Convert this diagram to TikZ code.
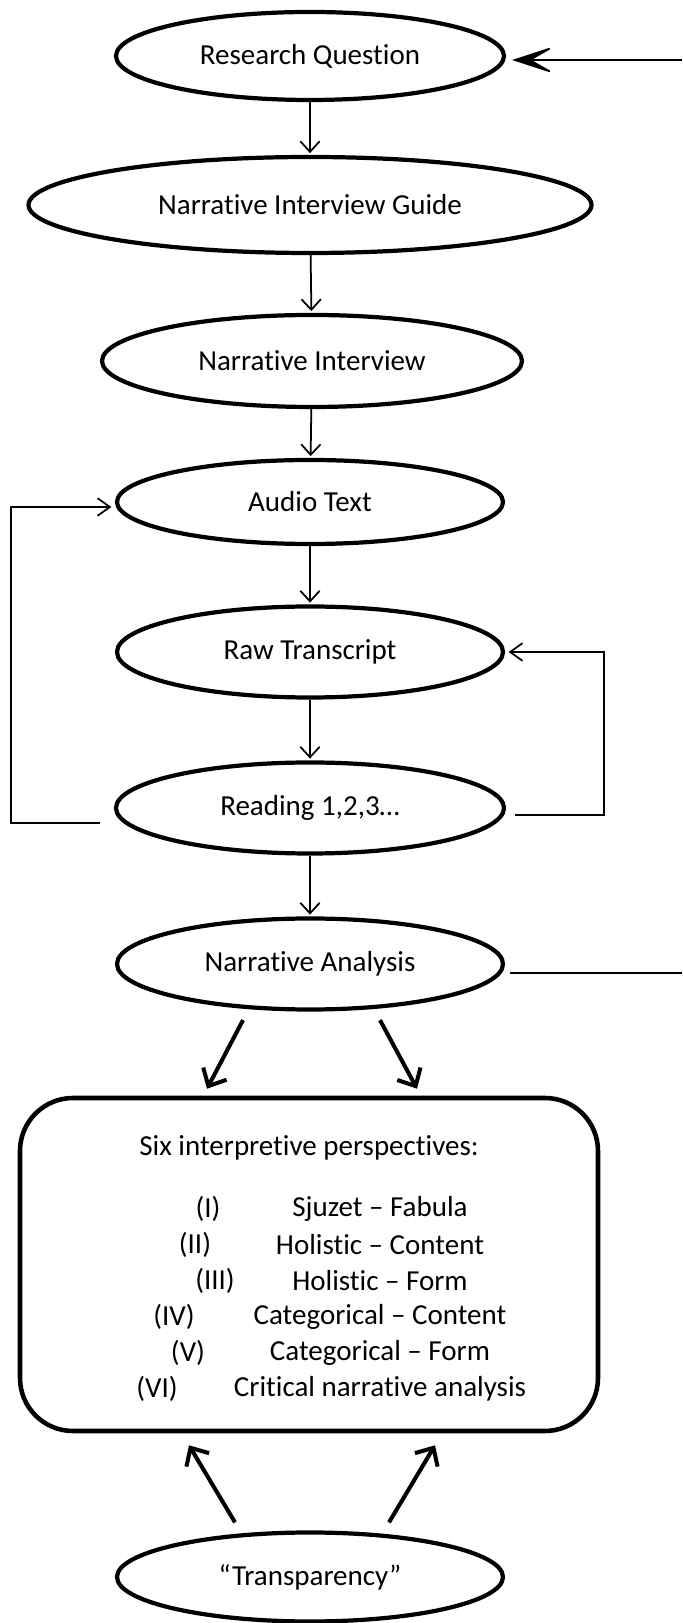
\documentclass[tikz,border=0pt]{standalone}
\usepackage{fontspec}
\setmainfont{Carlito}[Ligatures={TeX,NoCommon,NoContextual}]
\usetikzlibrary{shapes.geometric, arrows.meta}

\begin{document}
\begin{tikzpicture}[>={Straight Barb[length=6pt,width=11pt]},
    font=\fontsize{16.5}{19.8}\selectfont,
    etapa/.style={ellipse, draw, line width=2.4pt, inner sep=0pt},
    flecha/.style={->, line width=1pt, shorten >=1pt},
    gruesa/.style={-{Straight Barb[length=8pt,width=15pt]}, line width=2.3pt},
    lazo/.style={-{Straight Barb[length=7pt,width=10pt]}, line width=1pt, shorten >=2pt}]

    % 0. Marco de la figura
    \useasboundingbox (0,0) rectangle (13.64,32.46);

    % 1. Etapas del proceso (elipses)
    \node[etapa, minimum width=7.76cm, minimum height=1.76cm] (rq) at (6.2,31.34) {Research Question};
    \node[etapa, minimum width=11.26cm, minimum height=1.92cm] (nig) at (6.2,28.36) {Narrative Interview Guide};
    \node[etapa, minimum width=8.4cm, minimum height=1.84cm] (ni) at (6.24,25.24) {Narrative Interview};
    \node[etapa, minimum width=7.72cm, minimum height=1.68cm] (at) at (6.2,22.42) {Audio Text};
    \node[etapa, minimum width=7.72cm, minimum height=1.82cm] (rt) at (6.2,19.42) {Raw Transcript};
    \node[etapa, minimum width=7.76cm, minimum height=1.82cm] (rd) at (6.2,16.30) {Reading 1,2,3…};
    \node[etapa, minimum width=7.72cm, minimum height=1.82cm] (na) at (6.2,13.18) {Narrative Analysis};
    \node[etapa, minimum width=7.72cm, minimum height=1.78cm] (tr) at (6.2,0.92) {“Transparency”};

    % 2. Flechas verticales entre etapas
    \foreach \a/\b in {rq/nig, nig/ni, ni/at, at/rt, rt/rd, rd/na} {
        \draw[flecha] (\a) -- (\b);
    }

    % 3. Caja con las seis perspectivas
    \node[draw, line width=2.6pt, rounded corners=1.06cm, minimum width=11.56cm, minimum height=6.66cm] (caja) at (6.18,7.17) {};
    \node (titulo) at (6.18,9.50) {Six interpretive perspectives:};
    \foreach \num/\nx/\txt [count=\i] in {I/4.16/Sjuzet -- Fabula, II/3.90/Holistic -- Content, III/4.30/Holistic -- Form,
        IV/3.48/Categorical -- Content, V/3.76/Categorical -- Form, VI/3.14/Critical narrative analysis} {
        \node (num\i) at (\nx, 8.28-0.72*\i+0.72) {(\num)};
        \node (item\i) at (7.6, 8.28-0.72*\i+0.72) {\txt};
    }

    % 4. Flechas gruesas hacia la caja
    \draw[gruesa] ([xshift=-1.34cm,yshift=-0.17cm]na.south) -- ([xshift=-2.04cm,yshift=0.14cm]caja.north);
    \draw[gruesa] ([xshift=1.4cm,yshift=-0.17cm]na.south) -- ([xshift=2.16cm,yshift=0.14cm]caja.north);
    \draw[gruesa] ([xshift=-1.5cm,yshift=0.16cm]tr.north) -- ([xshift=-2.4cm,yshift=-0.24cm]caja.south);
    \draw[gruesa] ([xshift=1.58cm,yshift=0.16cm]tr.north) -- ([xshift=2.52cm,yshift=-0.24cm]caja.south);

    % 5. Lazos de retroalimentacion de la lectura
    \coordinate (izq) at (2.0,16.0);
    \draw[lazo] (izq) -- ++(-1.78,0) |- ([yshift=-0.1cm]at.west);
    \coordinate (der) at (10.3,16.16);
    \draw[lazo] (der) -- ++(1.78,0) |- (rt.east);

    % 6. Retorno desde el analisis hacia la pregunta
    \coordinate (entrada) at (13.64,31.26);
    \draw[-{Stealth[length=26pt,width=17pt,inset=15pt]}, line width=1pt, shorten >=3.4pt] (entrada) -- (entrada -| rq.east);
    \coordinate (salida) at (13.64,13.0);
    \draw[line width=1pt, shorten <=3pt] (na.east |- salida) -- (salida);

\end{tikzpicture}
\end{document}
